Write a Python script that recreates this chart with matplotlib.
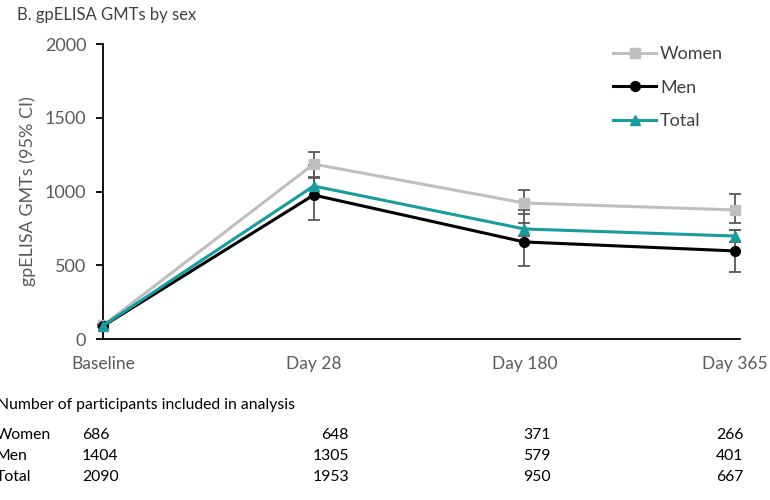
import matplotlib.pyplot as plt
import numpy as np

plt.rcParams['font.family'] = ['Lato', 'DejaVu Sans']

timepoints = ['Baseline', 'Day 28', 'Day 180', 'Day 365']

# geometric mean titres and 95% CI bounds
women_gmt = [92, 1186, 922, 875]
women_lo = [80, 1092, 847, 786]
women_hi = [105, 1268, 1010, 983]

men_gmt = [88, 976, 658, 597]
men_lo = [78, 807, 495, 454]
men_hi = [100, 1180, 875, 739]

total_gmt = [90, 1037, 746, 698]
total_lo = [82, 960, 700, 660]
total_hi = [98, 1100, 786, 739]

# participants per timepoint
n_women = [686, 648, 371, 266]
n_men = [1404, 1305, 579, 401]
n_total = [2090, 1953, 950, 667]

fig = plt.figure(figsize=(7.7, 5), dpi=100)
ax = fig.add_axes([103 / 770, 0.322, 637 / 770, 0.59])

x = np.arange(len(timepoints))
grey = '#595959'

series = [
    ('Women', women_gmt, women_lo, women_hi, '#BFBFBF', 's'),
    ('Men', men_gmt, men_lo, men_hi, 'black', 'o'),
    ('Total', total_gmt, total_lo, total_hi, '#1A9C9C', '^'),
]

for name, gmt, lo, hi, col, mk in series:
    gmt = np.array(gmt)
    err = [gmt - np.array(lo), np.array(hi) - gmt]
    ax.errorbar(x, gmt, yerr=err, fmt='none', ecolor=grey, elinewidth=1.3,
                capsize=4, capthick=1.3, zorder=2, clip_on=False)

for name, gmt, lo, hi, col, mk in series:
    ax.plot(x, gmt, color=col, marker=mk, markersize=7, linewidth=2.2,
            label=name, zorder=3, clip_on=False)

ax.set_xlim(0, 3.024)
ax.set_ylim(0, 2000)
ax.set_yticks([0, 500, 1000, 1500, 2000])
ax.set_xticks(x)
ax.set_xticklabels(timepoints)
ax.tick_params(axis='x', length=0, pad=12, labelsize=12.5, colors=grey)
ax.tick_params(axis='y', length=5, width=1.3, color='black', labelsize=13,
               colors=grey, pad=7)
for s in ['top', 'right']:
    ax.spines[s].set_visible(False)
for s in ['left', 'bottom']:
    ax.spines[s].set_color('black')
    ax.spines[s].set_linewidth(1.3)
ax.set_ylabel('gpELISA GMTs (95% CI)', fontsize=13, color=grey, labelpad=6)

leg = ax.legend(loc='upper left', bbox_to_anchor=(613 / 770, 0.908),
                bbox_transform=fig.transFigure, frameon=False, borderpad=0,
                borderaxespad=0, handlelength=2.4, labelspacing=0.98,
                handletextpad=0.2, fontsize=13)
for t in leg.get_texts():
    t.set_color('#404040')

fig.text(17 / 770, 0.97, 'B. gpELISA GMTs by sex', fontsize=12, color='#404040',
         va='center')

# participant counts under the chart
fig.text(-0.004, 1 - 405 / 500, 'Number of participants included in analysis',
         fontsize=11.3, color='black', va='center')
rows = [('Women', n_women), ('Men', n_men), ('Total', n_total)]
cols_px = [(82, 'left'), (349, 'right'), (523, 'left'), (716, 'left')]
for i, (lab, counts) in enumerate(rows):
    yy = 1 - (435 + 21 * i) / 500
    fig.text(-0.006, yy, lab, fontsize=11.3, color='black', va='center')
    for (cx, ha), n in zip(cols_px, counts):
        fig.text(cx / 770, yy, str(n), fontsize=11.3, color='black',
                 va='center', ha=ha)

fig.savefig('out.png', dpi=100)
